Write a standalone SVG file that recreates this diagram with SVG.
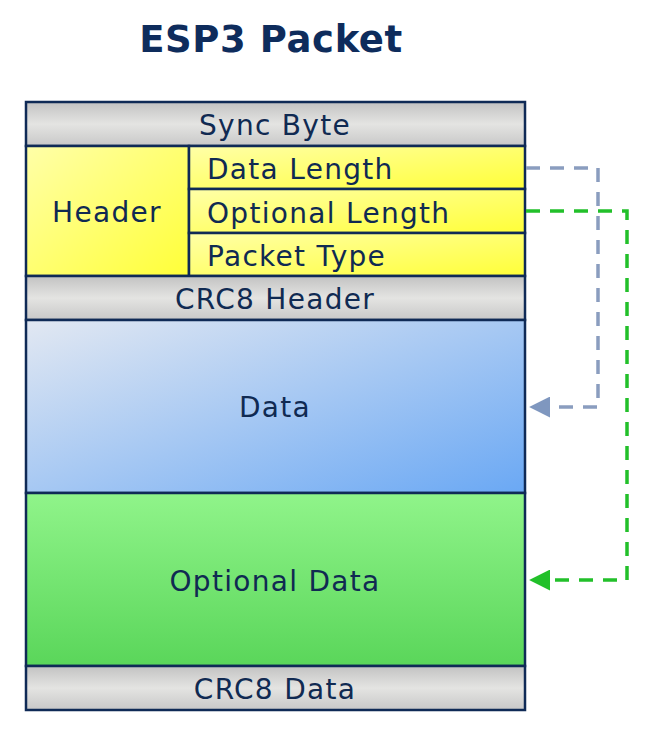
<svg xmlns="http://www.w3.org/2000/svg" width="667" height="738" viewBox="0 0 667 738">
<defs>
<linearGradient id="grey" x1="0" y1="0" x2="0" y2="1">
<stop offset="0" stop-color="#c2c2c2"/>
<stop offset="0.5" stop-color="#e4e4e2"/>
<stop offset="1" stop-color="#c8c8c8"/>
</linearGradient>
<linearGradient id="yellow" x1="0" y1="0" x2="1" y2="1">
<stop offset="0" stop-color="#ffffa8"/>
<stop offset="1" stop-color="#ffff38"/>
</linearGradient>
<linearGradient id="blue" x1="0" y1="0" x2="1" y2="1">
<stop offset="0" stop-color="#e2e8f2"/>
<stop offset="1" stop-color="#6aa8f4"/>
</linearGradient>
<linearGradient id="green" x1="0" y1="0" x2="0" y2="1">
<stop offset="0" stop-color="#90f48a"/>
<stop offset="1" stop-color="#5ad65a"/>
</linearGradient>
<marker id="arrBlue" viewBox="0 0 10 10" refX="1" refY="5" markerWidth="6" markerHeight="6" orient="auto-start-reverse" markerUnits="strokeWidth">
<path d="M0,0 L10,5 L0,10 z" fill="#7f97bf"/>
</marker>
<marker id="arrGreen" viewBox="0 0 10 10" refX="1" refY="5" markerWidth="6" markerHeight="6" orient="auto-start-reverse" markerUnits="strokeWidth">
<path d="M0,0 L10,5 L0,10 z" fill="#22c02a"/>
</marker>
</defs>
<style>
.cell{stroke:#0f2a56;stroke-width:2.5}
.t{font-family:"DejaVu Sans",Verdana,sans-serif;font-size:28px;letter-spacing:1.3px;fill:#102a52}
.c{text-anchor:middle}
.title{font-family:"DejaVu Sans",Verdana,sans-serif;font-size:37px;letter-spacing:0.6px;font-weight:bold;fill:#0e2c5c;text-anchor:middle}
.dash{fill:none;stroke-width:3.5;stroke-dasharray:14,10}
</style>
<rect width="667" height="738" fill="#ffffff"/>
<text class="title" x="271" y="52">ESP3 Packet</text>
<g id="sync"><rect class="cell" x="26" y="102" width="499" height="44" fill="url(#grey)"/><text class="t c" x="275" y="135">Sync Byte</text></g>
<g id="header"><rect class="cell" x="26" y="146" width="163" height="130" fill="url(#yellow)"/><text class="t c" x="107" y="222">Header</text></g>
<g id="datalength"><rect class="cell" x="189" y="146" width="336" height="43" fill="url(#yellow)"/><text class="t" x="207" y="179">Data Length</text></g>
<g id="optlength"><rect class="cell" x="189" y="189" width="336" height="44" fill="url(#yellow)"/><text class="t" x="207" y="223">Optional Length</text></g>
<g id="packettype"><rect class="cell" x="189" y="233" width="336" height="43" fill="url(#yellow)"/><text class="t" x="207" y="266">Packet Type</text></g>
<g id="crc8header"><rect class="cell" x="26" y="276" width="499" height="44" fill="url(#grey)"/><text class="t c" x="275" y="309">CRC8 Header</text></g>
<g id="data"><rect class="cell" x="26" y="320" width="499" height="173" fill="url(#blue)"/><text class="t c" x="275" y="417">Data</text></g>
<g id="optdata"><rect class="cell" x="26" y="493" width="499" height="173" fill="url(#green)"/><text class="t c" x="275" y="591">Optional Data</text></g>
<g id="crc8data"><rect class="cell" x="26" y="666" width="499" height="44" fill="url(#grey)"/><text class="t c" x="275" y="699">CRC8 Data</text></g>
<g id="connectors">
<path class="dash" stroke="#8a9dbf" d="M526,168 H598 V407 H548" marker-end="url(#arrBlue)"/>
<path class="dash" stroke="#22c02a" d="M526,211 H627 V580 H548" marker-end="url(#arrGreen)"/>
</g>
</svg>
